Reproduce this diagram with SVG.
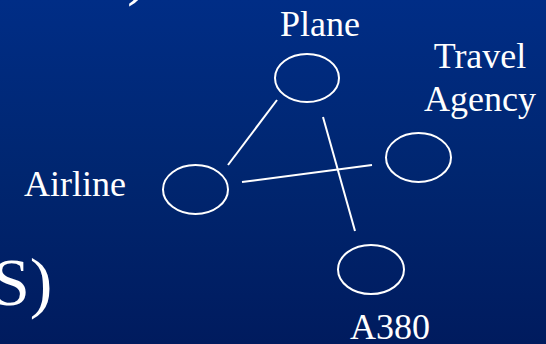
<svg xmlns="http://www.w3.org/2000/svg" width="546" height="344" viewBox="0 0 546 344">
  <defs>
    <linearGradient id="bg" x1="0" y1="0" x2="0" y2="1">
      <stop offset="0" stop-color="#002D86"/>
      <stop offset="0.5" stop-color="#002670"/>
      <stop offset="1" stop-color="#001B5E"/>
    </linearGradient>
    <style>
      .node { fill: none; stroke: #FFFFFF; stroke-width: 2; }
      .edge { stroke: #FFFFFF; stroke-width: 2; fill: none; }
      .lbl { font-family: "Liberation Serif", "Times New Roman", serif; font-size: 36px; fill: #FFFFFF; }
      .big { font-family: "Liberation Serif", "Times New Roman", serif; font-size: 68px; fill: #FFFFFF; }
    </style>
  </defs>
  <rect width="546" height="344" fill="url(#bg)"/>
  <text class="big" x="127" y="-8">)</text>
  <text class="big" x="-8" y="305">S)</text>
  <g id="connectors">
    <line class="edge" x1="228" y1="165" x2="277" y2="100"/>
    <line class="edge" x1="323" y1="117" x2="355" y2="231"/>
    <line class="edge" x1="242" y1="182" x2="372" y2="165"/>
  </g>
  <g id="plane">
    <ellipse class="node" cx="307" cy="78" rx="32" ry="24"/>
    <text class="lbl" x="320" y="36" text-anchor="middle">Plane</text>
  </g>
  <g id="travel-agency">
    <ellipse class="node" cx="418.5" cy="157.5" rx="32.5" ry="24.5"/>
    <text class="lbl" x="480" y="68" text-anchor="middle">Travel</text>
    <text class="lbl" x="480" y="111" text-anchor="middle">Agency</text>
  </g>
  <g id="airline">
    <ellipse class="node" cx="195.5" cy="189.5" rx="32.5" ry="24.5"/>
    <text class="lbl" x="75" y="196" text-anchor="middle">Airline</text>
  </g>
  <g id="a380">
    <ellipse class="node" cx="371" cy="269.5" rx="33" ry="24.5"/>
    <text class="lbl" x="390" y="339" text-anchor="middle">A380</text>
  </g>
</svg>
